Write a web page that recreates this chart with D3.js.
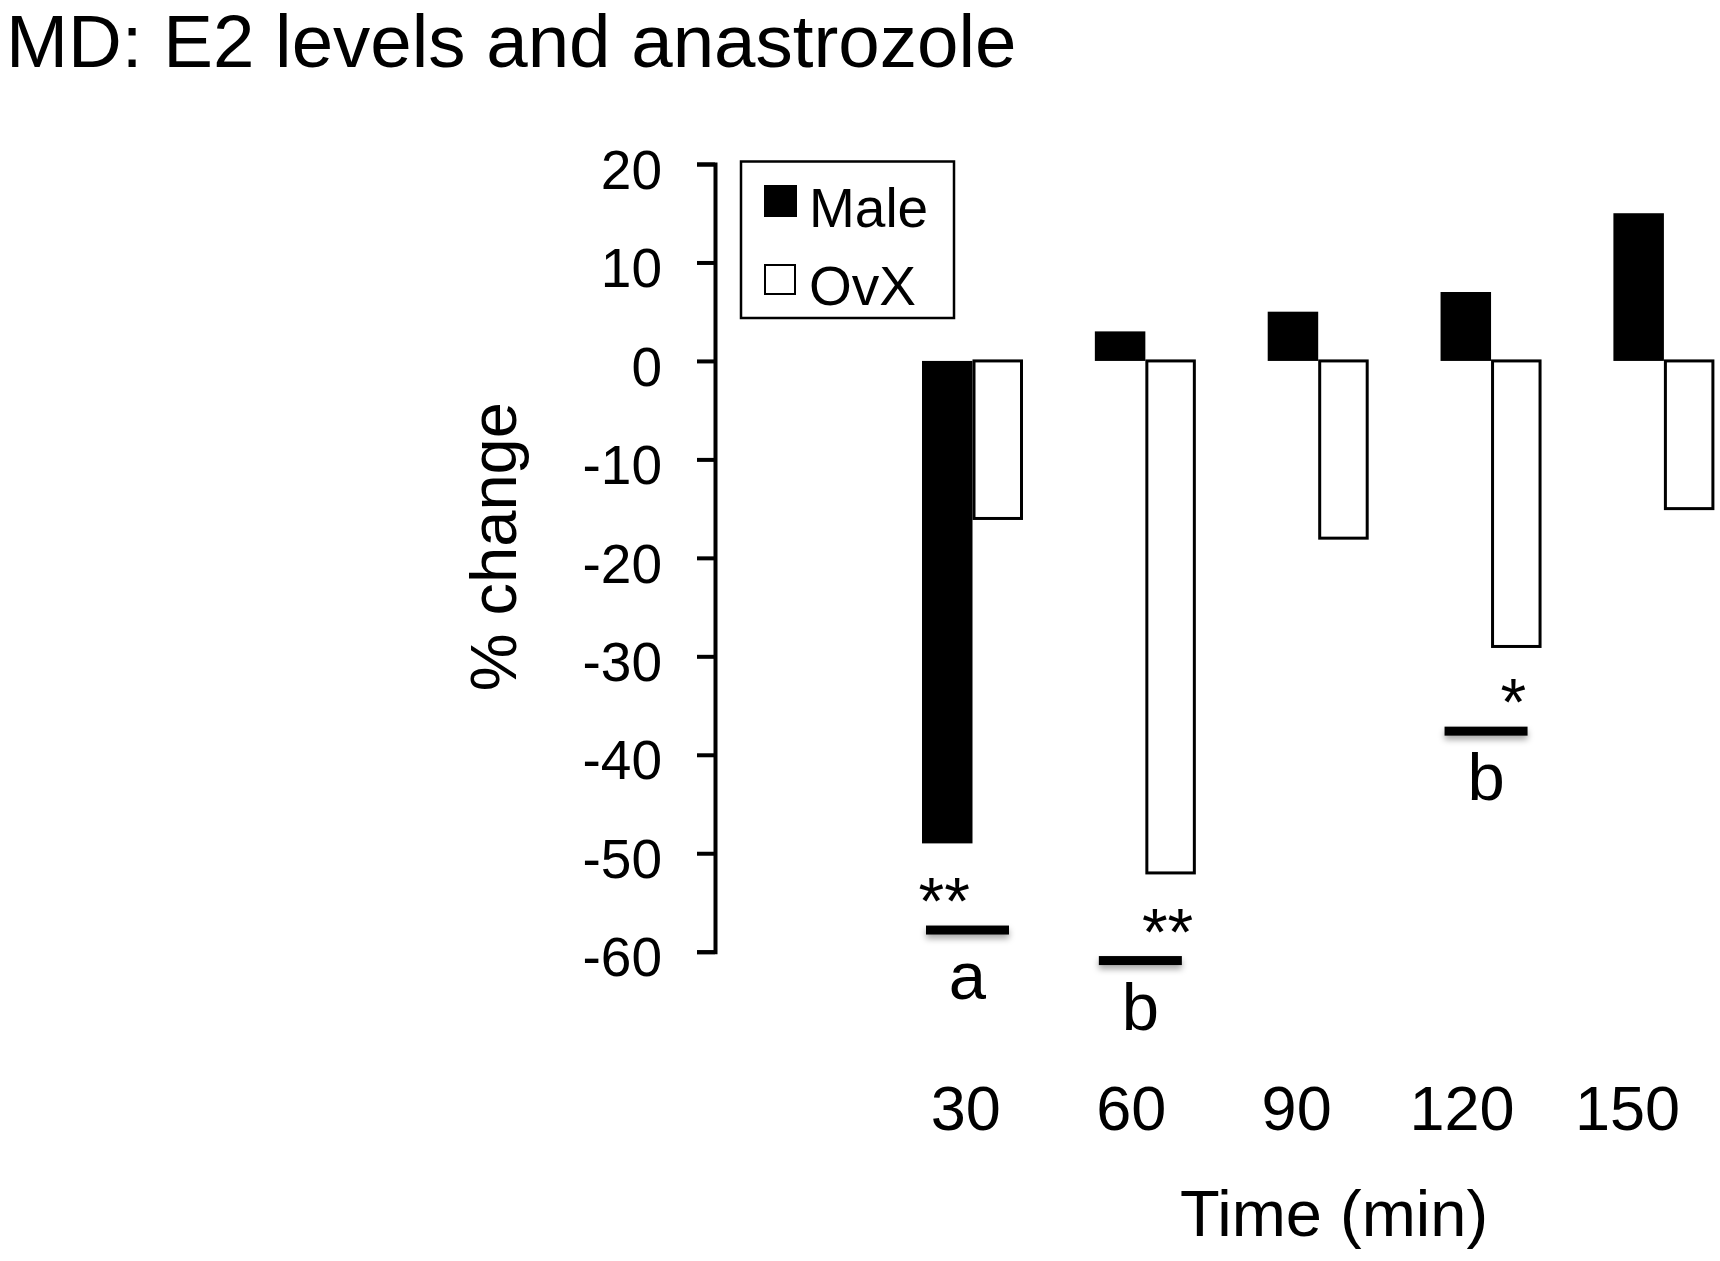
<!DOCTYPE html>
<html>
<head>
<meta charset="utf-8">
<script src="https://cdn.jsdelivr.net/npm/d3@7"></script>
<style>
  body { margin: 0; background: #fff; }
  text { font-family: "Liberation Sans", Arial, Helvetica, sans-serif; fill: #000; }
</style>
</head>
<body>
<div id="chart"></div>
<script>
// values
var categories = ["30", "60", "90", "120", "150"]
var series = ["Male", "OvX"]
var maleValues = [-49, 3, 5, 7, 15]
var ovxValues = [-16, -52, -18, -29, -15]
var yTicks = [20, 10, 0, -10, -20, -30, -40, -50, -60]

// significance marks
var sigCategories = ["30", "60", "120"]
var sigSeries = ["Male", "OvX", "OvX"]
var sigStars = ["**", "**", "*"]
var sigLetters = ["a", "b", "b"]
var sigLevels = [-57.8, -60.9, -37.6]

draw()
function draw() {
  var W = 1720, H = 1261
  var margin = { top: 164, left: 715 }
  var width = 1714.4 - margin.left
  var height = 951.7 - margin.top

  var svg = d3.select("#chart").append("svg")
    .attr("width", W)
    .attr("height", H)

  var defs = svg.append("defs")
  var f = defs.append("filter").attr("id", "shadow")
    .attr("x", "-20%").attr("y", "-100%").attr("width", "140%").attr("height", "400%")
  f.append("feDropShadow")
    .attr("dx", 0).attr("dy", 4).attr("stdDeviation", 3)
    .attr("flood-color", "#000").attr("flood-opacity", 0.35)

  svg.append("text")
    .text("MD: E2 levels and anastrozole")
    .attr("x", 6)
    .attr("y", 67)
    .attr("font-size", 74.5)

  var g = svg.append("g")
    .attr("transform", "translate(" + margin.left + "," + margin.top + ")")

  var x = d3.scaleBand()
    .domain(categories)
    .range([922 - margin.left, width])
    .paddingInner(0.4157)
    .paddingOuter(0)
  var xs = d3.scaleBand().domain(series).range([0, x.bandwidth()])
  var y = d3.scaleLinear().domain([-60, 20]).range([height, 0])

  // x labels sit on their own spacing in the original
  var xl = d3.scalePoint().domain(categories).range([965.8 - margin.left, 1627.5 - margin.left])

  var data = categories.map(function (c, i) {
    return { cat: c, Male: maleValues[i], OvX: ovxValues[i] }
  })

  var grp = g.selectAll(".grp").data(data).enter().append("g")
    .attr("class", "grp")
    .attr("transform", d => "translate(" + x(d.cat) + ",0)")

  grp.append("rect")
    .attr("x", xs("Male"))
    .attr("width", xs.bandwidth())
    .attr("y", d => y(Math.max(0, d.Male)))
    .attr("height", d => Math.abs(y(d.Male) - y(0)))
    .attr("fill", "#000")

  grp.append("rect")
    .attr("x", xs("OvX") + 1.5)
    .attr("width", xs.bandwidth() - 3)
    .attr("y", d => y(Math.max(0, d.OvX)))
    .attr("height", d => Math.abs(y(d.OvX) - y(0)))
    .attr("fill", "#fff")
    .attr("stroke", "#000")
    .attr("stroke-width", 3)

  // y axis
  g.append("g")
    .call(d3.axisLeft(y).tickValues(yTicks).tickFormat(d => String(d))
      .tickSize(18).tickSizeOuter(18).tickPadding(35))
    .call(a => {
      a.select(".domain").attr("stroke-width", 4).attr("stroke", "#000")
      a.selectAll(".tick line").attr("stroke-width", 4).attr("stroke", "#000")
      a.selectAll("text")
        .attr("font-size", 55)
        .attr("dy", "0.44em")
        .attr("fill", "#000")
        .style("font-family", "'Liberation Sans', Arial, sans-serif")
    })

  // x labels
  g.selectAll(".xlab").data(categories).enter().append("text")
    .attr("class", "xlab")
    .attr("x", d => xl(d))
    .attr("y", 1130 - margin.top)
    .attr("text-anchor", "middle")
    .attr("font-size", 63)
    .text(d => d)

  svg.append("text")
    .text("Time (min)")
    .attr("x", 1334)
    .attr("y", 1236)
    .attr("text-anchor", "middle")
    .attr("font-size", 65)

  svg.append("text")
    .text("% change")
    .attr("transform", "translate(516,546.7) rotate(-90)")
    .attr("text-anchor", "middle")
    .attr("font-size", 65)

  // significance marks
  sigCategories.forEach(function (c, i) {
    var ly = y(sigLevels[i])
    var lx = x(c) + 4
    g.append("rect")
      .attr("x", lx).attr("width", 83)
      .attr("y", ly - 4.5).attr("height", 9)
      .attr("fill", "#000")
      .attr("filter", "url(#shadow)")
    g.append("text")
      .text(sigStars[i])
      .attr("x", x(c) + xs(sigSeries[i]) + xs.bandwidth() / 2 - 3)
      .attr("y", ly - 6)
      .attr("text-anchor", "middle")
      .attr("font-size", 66)
    g.append("text")
      .text(sigLetters[i])
      .attr("x", lx + 41.5)
      .attr("y", ly + 69)
      .attr("text-anchor", "middle")
      .attr("font-size", 67)
  })

  // legend
  var leg = svg.append("g")
  leg.append("rect")
    .attr("x", 741).attr("y", 161.5)
    .attr("width", 213).attr("height", 156.5)
    .attr("fill", "#fff").attr("stroke", "#000").attr("stroke-width", 2.5)
  var item = leg.selectAll(".item").data(series).enter().append("g")
    .attr("class", "item")
    .attr("transform", (d, i) => "translate(0," + (i * 78) + ")")
  item.append("rect")
    .attr("x", d => d == "Male" ? 764 : 765)
    .attr("y", d => d == "Male" ? 185 : 187)
    .attr("width", d => d == "Male" ? 33 : 30)
    .attr("height", d => d == "Male" ? 32 : 29)
    .attr("fill", d => d == "Male" ? "#000" : "#fff")
    .attr("stroke", d => d == "Male" ? "none" : "#000")
    .attr("stroke-width", 2)
  item.append("text")
    .attr("x", 809)
    .attr("y", 227)
    .attr("font-size", 55)
    .text(d => d)
}
</script>
</body>
</html>
